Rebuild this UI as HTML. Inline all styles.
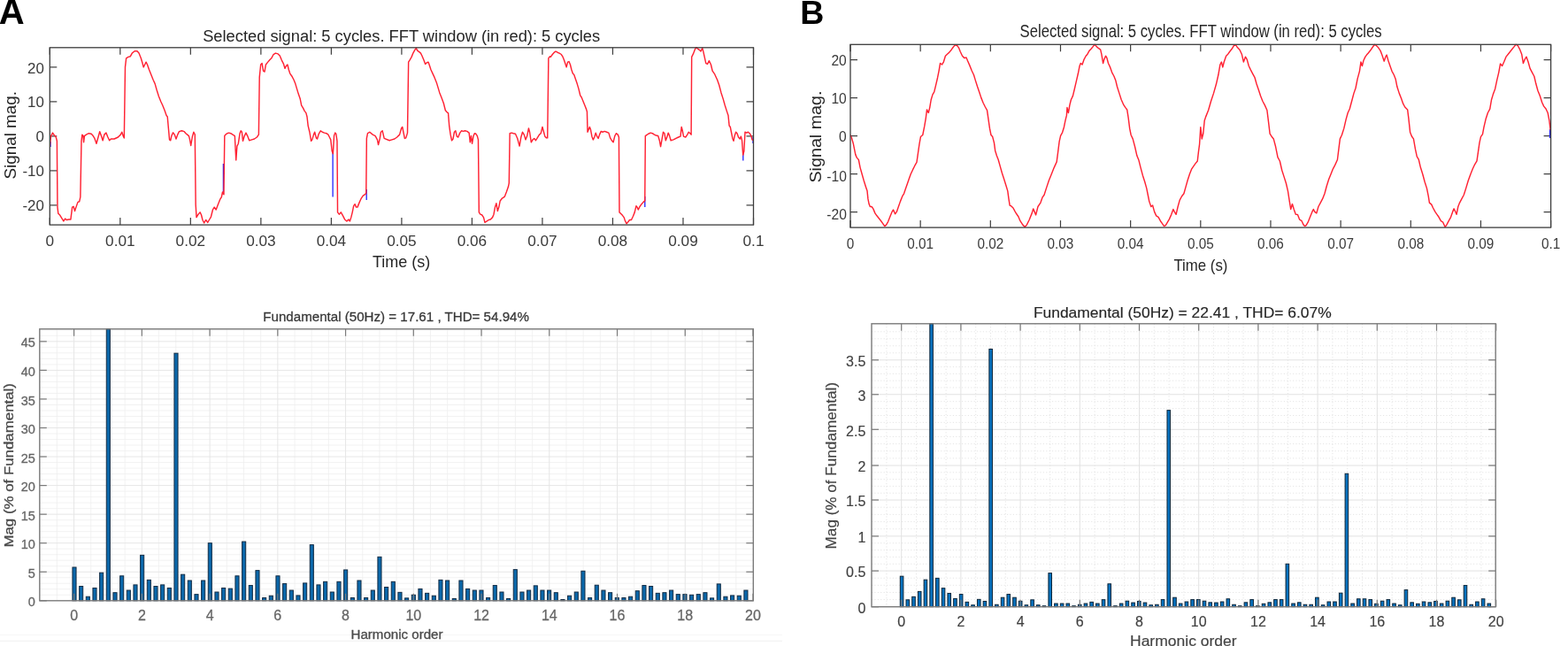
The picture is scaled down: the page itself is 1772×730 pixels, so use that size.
<!DOCTYPE html>
<html><head><meta charset="utf-8"><title>FFT analysis</title>
<style>html,body{margin:0;padding:0;background:#fff;width:1772px;height:730px;overflow:hidden}svg{display:block}</style>
</head><body>
<svg width="1772" height="730" viewBox="0 0 1772 730" font-family="'Liberation Sans', Arial, Helvetica, sans-serif">
<rect x="0" y="0" width="1772" height="730" fill="#ffffff"/>
<line x1="0" y1="717.6" x2="884" y2="717.6" stroke="#f7f7f7" stroke-width="1"/>
<line x1="0" y1="724.4" x2="884" y2="724.4" stroke="#f3f3f3" stroke-width="1.2"/>
<text x="-1.2" y="26.6" font-size="40" text-anchor="start" fill="#000" font-weight="bold">A</text>
<text x="904.3" y="26.6" font-size="37.5" text-anchor="start" fill="#000" font-weight="bold">B</text>
<line x1="56.3" y1="254.1" x2="56.3" y2="246.1" stroke="#3c3c3c" stroke-width="1.2"/>
<line x1="56.3" y1="53.8" x2="56.3" y2="61.8" stroke="#3c3c3c" stroke-width="1.2"/>
<text x="56.3" y="278.4" font-size="17.2" text-anchor="middle" fill="#3a3a3a">0</text>
<line x1="135.82" y1="254.1" x2="135.82" y2="246.1" stroke="#3c3c3c" stroke-width="1.2"/>
<line x1="135.82" y1="53.8" x2="135.82" y2="61.8" stroke="#3c3c3c" stroke-width="1.2"/>
<text x="135.82" y="278.4" font-size="17.2" text-anchor="middle" fill="#3a3a3a">0.01</text>
<line x1="215.34" y1="254.1" x2="215.34" y2="246.1" stroke="#3c3c3c" stroke-width="1.2"/>
<line x1="215.34" y1="53.8" x2="215.34" y2="61.8" stroke="#3c3c3c" stroke-width="1.2"/>
<text x="215.34" y="278.4" font-size="17.2" text-anchor="middle" fill="#3a3a3a">0.02</text>
<line x1="294.86" y1="254.1" x2="294.86" y2="246.1" stroke="#3c3c3c" stroke-width="1.2"/>
<line x1="294.86" y1="53.8" x2="294.86" y2="61.8" stroke="#3c3c3c" stroke-width="1.2"/>
<text x="294.86" y="278.4" font-size="17.2" text-anchor="middle" fill="#3a3a3a">0.03</text>
<line x1="374.38" y1="254.1" x2="374.38" y2="246.1" stroke="#3c3c3c" stroke-width="1.2"/>
<line x1="374.38" y1="53.8" x2="374.38" y2="61.8" stroke="#3c3c3c" stroke-width="1.2"/>
<text x="374.38" y="278.4" font-size="17.2" text-anchor="middle" fill="#3a3a3a">0.04</text>
<line x1="453.9" y1="254.1" x2="453.9" y2="246.1" stroke="#3c3c3c" stroke-width="1.2"/>
<line x1="453.9" y1="53.8" x2="453.9" y2="61.8" stroke="#3c3c3c" stroke-width="1.2"/>
<text x="453.9" y="278.4" font-size="17.2" text-anchor="middle" fill="#3a3a3a">0.05</text>
<line x1="533.42" y1="254.1" x2="533.42" y2="246.1" stroke="#3c3c3c" stroke-width="1.2"/>
<line x1="533.42" y1="53.8" x2="533.42" y2="61.8" stroke="#3c3c3c" stroke-width="1.2"/>
<text x="533.42" y="278.4" font-size="17.2" text-anchor="middle" fill="#3a3a3a">0.06</text>
<line x1="612.94" y1="254.1" x2="612.94" y2="246.1" stroke="#3c3c3c" stroke-width="1.2"/>
<line x1="612.94" y1="53.8" x2="612.94" y2="61.8" stroke="#3c3c3c" stroke-width="1.2"/>
<text x="612.94" y="278.4" font-size="17.2" text-anchor="middle" fill="#3a3a3a">0.07</text>
<line x1="692.46" y1="254.1" x2="692.46" y2="246.1" stroke="#3c3c3c" stroke-width="1.2"/>
<line x1="692.46" y1="53.8" x2="692.46" y2="61.8" stroke="#3c3c3c" stroke-width="1.2"/>
<text x="692.46" y="278.4" font-size="17.2" text-anchor="middle" fill="#3a3a3a">0.08</text>
<line x1="771.98" y1="254.1" x2="771.98" y2="246.1" stroke="#3c3c3c" stroke-width="1.2"/>
<line x1="771.98" y1="53.8" x2="771.98" y2="61.8" stroke="#3c3c3c" stroke-width="1.2"/>
<text x="771.98" y="278.4" font-size="17.2" text-anchor="middle" fill="#3a3a3a">0.09</text>
<line x1="851.5" y1="254.1" x2="851.5" y2="246.1" stroke="#3c3c3c" stroke-width="1.2"/>
<line x1="851.5" y1="53.8" x2="851.5" y2="61.8" stroke="#3c3c3c" stroke-width="1.2"/>
<text x="851.5" y="278.4" font-size="17.2" text-anchor="middle" fill="#3a3a3a">0.1</text>
<line x1="56.3" y1="231.9" x2="64.3" y2="231.9" stroke="#3c3c3c" stroke-width="1.2"/>
<line x1="851.5" y1="231.9" x2="843.5" y2="231.9" stroke="#3c3c3c" stroke-width="1.2"/>
<text x="49.8" y="238" font-size="16.9" text-anchor="end" fill="#3a3a3a">-20</text>
<line x1="56.3" y1="192.9" x2="64.3" y2="192.9" stroke="#3c3c3c" stroke-width="1.2"/>
<line x1="851.5" y1="192.9" x2="843.5" y2="192.9" stroke="#3c3c3c" stroke-width="1.2"/>
<text x="49.8" y="199" font-size="16.9" text-anchor="end" fill="#3a3a3a">-10</text>
<line x1="56.3" y1="153.9" x2="64.3" y2="153.9" stroke="#3c3c3c" stroke-width="1.2"/>
<line x1="851.5" y1="153.9" x2="843.5" y2="153.9" stroke="#3c3c3c" stroke-width="1.2"/>
<text x="49.8" y="160.3" font-size="16.9" text-anchor="end" fill="#3a3a3a">0</text>
<line x1="56.3" y1="114.9" x2="64.3" y2="114.9" stroke="#3c3c3c" stroke-width="1.2"/>
<line x1="851.5" y1="114.9" x2="843.5" y2="114.9" stroke="#3c3c3c" stroke-width="1.2"/>
<text x="49.8" y="120.9" font-size="16.9" text-anchor="end" fill="#3a3a3a">10</text>
<line x1="56.3" y1="75.9" x2="64.3" y2="75.9" stroke="#3c3c3c" stroke-width="1.2"/>
<line x1="851.5" y1="75.9" x2="843.5" y2="75.9" stroke="#3c3c3c" stroke-width="1.2"/>
<text x="49.8" y="83" font-size="16.9" text-anchor="end" fill="#3a3a3a">20</text>
<g clip-path="url(#clipAT)">
<line x1="252.4" y1="185" x2="252.4" y2="219.7" stroke="#2020ff" stroke-width="1.3"/>
<line x1="376.1" y1="172" x2="376.1" y2="222.6" stroke="#2020ff" stroke-width="1.3"/>
<line x1="414.2" y1="214" x2="414.2" y2="226" stroke="#2020ff" stroke-width="1.3"/>
<line x1="839.8" y1="172" x2="839.8" y2="181.5" stroke="#2020ff" stroke-width="1.3"/>
<line x1="728.8" y1="222" x2="728.8" y2="234" stroke="#2020ff" stroke-width="1.3"/>
<line x1="851" y1="155" x2="851" y2="162" stroke="#2020ff" stroke-width="1.3"/>
<line x1="57" y1="160" x2="57" y2="166" stroke="#2020ff" stroke-width="1.3"/>
<polyline points="56.33,165.65 57.48,154.14 59.49,150.12 61.51,152.99 62.95,154.14 63.81,157.02 64.38,159.32 64.96,234.12 65.82,241.31 67.84,243.33 70.14,247.07 71.86,249.94 73.59,247.07 75.32,248.5 77.62,247.93 79.92,247.93 81.65,234.12 83.08,233.26 84.52,238.43 85.96,234.12 87.97,228.37 89.7,227.79 90.85,222.61 92,159.32 92.87,152.13 94.02,153.57 94.59,160.76 95.45,153.57 97.47,152.13 100.35,150.69 103.22,151.27 105.24,153.57 106.96,156.44 108.98,162.2 110.99,155.01 112.72,148.68 114.44,153.57 116.17,158.75 117.89,152.13 119.91,150.12 121.92,155.01 123.65,158.75 125.37,157.02 129.11,157.02 133.43,155.01 136.31,152.13 137.74,149.25 139.18,153.57 140.33,155.87 141.48,75.89 142.64,65.82 144.94,64.38 147.24,63.81 149.25,60.07 152.13,57.77 155.01,57.77 157.02,60.07 159.32,65.82 161.05,71.58 162.2,75.89 163.64,73.01 165.07,70.14 166.51,73.01 168.53,78.77 170.83,84.52 173.13,90.28 175.14,94.59 177.16,101.78 179.46,108.98 181.76,114.73 183.77,119.04 186.08,124.8 188.09,130.55 189.24,131.99 190.39,144.94 191.54,157.88 192.69,158.75 193.84,153.57 195.57,149.83 197.3,152.13 199.02,157.02 200.75,152.13 202.47,148.68 205.35,147.81 208.23,148.68 209.95,150.69 211.68,152.13 213.41,153.57 214.56,157.88 215.71,164.5 217.43,154.14 218.87,149.25 220.31,152.13 221.17,231.24 222.04,245.63 224.05,242.17 226.06,239.87 227.5,242.75 228.94,248.5 230.67,251.96 232.68,248.5 234.7,251.38 236.42,248.5 238.43,245.05 240.45,237 242.17,234.12 244.19,237 246.33,231.24 248.63,225.49 250.36,222.61 251.51,216.86 252.95,219.74 253.81,153.57 254.96,152.13 256.69,150.69 258.7,150.12 260.71,150.69 263.01,152.13 265.32,153.57 266.75,180.9 267.91,165.07 269.34,162.2 271.07,150.69 272.22,147.81 273.37,149.25 274.52,159.32 276.25,153.57 277.97,150.12 279.7,153.57 281.71,158.75 284.59,157.88 287.47,157.02 290.35,155.01 292.36,152.13 293.22,87.4 294.66,73.01 296.1,71.58 297.54,80.21 298.98,81.07 300.41,73.01 302.72,70.14 304.73,67.84 306.74,65.82 309.04,61.51 311.35,60.07 314.22,60.93 316.24,62.95 318.25,67.84 320.55,72.44 321.99,77.33 323.43,74.45 324.87,73.01 326.31,78.77 327.74,83.08 329.76,85.96 332.06,90.28 333.79,94.59 335.51,100.35 337.24,106.1 339.25,111.85 340.69,119.04 342.42,121.92 344.14,125.37 345.87,127.68 347.02,131.99 348.17,142.06 349.9,149.25 351.62,159.32 352.77,157.88 354.5,152.13 355.65,149.25 357.38,155.87 358.53,157.02 360.25,151.27 362.27,147.81 364.28,149.25 366.58,150.12 368.88,150.69 370.9,152.13 372.34,155.01 373.77,157.88 375.21,170.83 376.36,173.71 377.51,153.57 378.67,150.12 379.82,151.27 380.97,159.32 381.54,239.87 383.27,242.17 385.28,239.87 387.3,243.33 389.6,247.93 391.9,249.94 393.91,247.93 395.35,249.94 396.79,245.63 398.23,239.87 399.67,232.68 401.1,230.67 402.54,234.12 403.98,234.12 406.28,228.37 408.3,224.05 410.31,221.17 412.61,219.74 413.76,218.3 414.34,156.44 415.49,150.69 417.79,149.25 421.24,152.13 424.12,153.57 426.42,157.88 427.57,163.64 429.3,156.44 430.45,149.25 432.17,147.81 434.19,156.44 440.07,158.75 442.95,157.88 445.82,157.02 448.7,155.01 451.58,152.13 453.59,144.94 454.74,143.5 455.89,149.25 457.33,156.44 458.77,155.87 460.49,150.12 461.65,70.14 463.08,67.84 465.1,64.38 466.82,60.07 468.84,56.33 470.28,54.32 471.71,57.19 473.73,58.63 475.45,60.07 476.89,62.95 478.91,67.84 480.63,72.44 482.36,70.71 484.09,70.14 485.24,73.59 486.96,78.77 488.98,83.08 490.99,87.4 493.29,93.15 495.02,98.91 496.74,104.66 499.04,110.41 501.35,116.74 503.36,124.8 505.37,127.1 506.52,127.68 507.68,142.06 509.11,152.13 510.55,158.75 511.99,157.02 513.43,149.25 514.87,147.81 516.31,154.14 517.74,155.01 519.76,150.12 521.48,147.81 523.5,148.39 525.51,147.81 527.81,148.39 530.12,150.12 531.27,160.76 532.42,153.57 533.57,162.2 535.01,153.57 536.44,150.69 537.88,151.27 539.32,153.57 540.47,157.88 541.33,239.87 542.77,242.17 544.5,242.75 546.51,245.63 547.95,251.38 550.25,249.94 552.27,248.5 554.28,247.93 556.58,245.63 558.02,242.17 559.46,234.12 560.9,229.8 562.34,238.43 563.77,234.12 565.21,226.93 567.51,224.05 570.39,222.04 572.41,216.86 574.42,211.1 575.28,206.79 576.14,150.69 578.16,150.12 580.17,150.69 582.47,151.27 584.78,156.44 587.08,165.07 588.8,155.01 590.53,149.25 592.26,152.13 593.98,157.88 595.71,153.57 597.43,144.94 598.58,149.25 600.31,160.76 602.04,157.88 603.76,156.44 605.49,158.75 607.22,155.87 609.52,152.13 611.24,150.69 612.97,143.5 614.12,147.81 615.85,154.14 617.57,155.87 618.72,155.87 619.87,65.82 621.31,63.81 622.3,64.38 624.32,61.51 626.33,59.21 628.06,58.06 630.07,59.21 632.08,60.07 634.38,61.51 635.82,63.81 637.26,67.26 638.7,71.58 640.14,75.89 641.58,70.14 643.01,69.56 644.45,73.01 645.89,78.77 647.33,83.08 648.77,84.52 650.21,88.84 652.22,94.59 653.95,100.35 655.67,107.54 657.4,110.41 659.13,114.73 660.85,119.04 662.58,123.36 663.44,126.24 664.02,149.25 665.17,146.38 666.32,143.5 667.47,146.38 668.91,154.14 670.35,157.88 671.78,155.01 673.22,150.12 674.66,154.14 676.1,156.44 677.54,152.13 679.26,148.39 680.99,149.25 683.29,148.39 685.59,149.25 687.89,150.12 689.62,155.87 691.35,158.75 693.07,160.76 694.8,153.57 696.52,150.69 698.25,152.13 699.4,155.01 699.98,239.87 701.42,241.31 703.43,243.33 705.16,245.63 706.31,249.08 708.03,252.82 709.76,250.81 711.48,248.5 713.5,248.5 715.51,244.19 717.24,239.87 718.96,232.68 720.12,234.12 721.27,237 722.99,233.54 725.01,230.67 727.02,228.37 728.75,226.93 729.32,153.57 731.05,152.42 732.77,151.27 735.07,150.12 737.38,150.69 739.39,152.13 741.4,152.99 743.71,153.57 745.43,159.32 746.58,165.65 747.73,159.32 749.46,149.25 750.9,150.69 752.34,158.75 753.77,155.01 755.21,150.12 756.65,153.57 758.09,158.75 760.97,157.88 763.84,156.44 766.72,155.01 769.02,154.14 770.17,143.5 771.32,147.81 772.47,154.14 774.78,155.01 776.79,152.13 778.23,149.25 779.95,150.69 781.1,152.13 781.68,64.38 783.41,60.93 785.42,55.75 786.86,53.45 788.58,55.18 790.31,56.33 792.04,58.06 793.76,54.32 794.91,58.63 796.06,63.81 797.79,71.58 799.52,72.44 801.42,68.7 803.43,73.01 805.16,80.21 807.74,83.95 810.62,90.28 812.64,96.03 814.94,104.66 817.24,111.85 819.25,119.04 821.27,125.37 822.99,130.55 824.14,142.06 825.29,143.5 826.44,149.25 827.88,156.44 829.03,159.32 830.18,153.57 831.62,149.25 833.06,150.69 834.5,155.01 836.23,157.02 837.38,154.14 838.53,158.75 839.68,175.14 840.83,170.83 841.98,149.25 843.71,150.12 845.43,149.25 847.16,150.69 848.88,153.57 850.03,157.88 851.47,158.75" fill="none" stroke="#ff2233" stroke-width="1.45" stroke-linejoin="round" stroke-linecap="round"/>
</g>
<clipPath id="clipAT"><rect x="56.3" y="52.8" width="795.2" height="201.3"/></clipPath>
<rect x="56.3" y="53.8" width="795.2" height="200.3" fill="none" stroke="#3c3c3c" stroke-width="1.3"/>
<text x="453.65" y="46.5" font-size="18" text-anchor="middle" fill="#262626" textLength="449" lengthAdjust="spacingAndGlyphs">Selected signal: 5 cycles. FFT window (in red): 5 cycles</text>
<text x="453.6" y="301.8" font-size="17.7" text-anchor="middle" fill="#262626" textLength="65.4" lengthAdjust="spacingAndGlyphs">Time (s)</text>
<text x="17.8" y="152.8" font-size="17.7" text-anchor="middle" fill="#262626" textLength="99.6" lengthAdjust="spacingAndGlyphs" transform="rotate(-90 17.8 152.8)">Signal mag.</text>
<line x1="961" y1="257.1" x2="961" y2="249.1" stroke="#3c3c3c" stroke-width="1.2"/>
<line x1="961" y1="50.3" x2="961" y2="58.3" stroke="#3c3c3c" stroke-width="1.2"/>
<text x="961" y="281" font-size="17.2" text-anchor="middle" fill="#3a3a3a" transform="translate(961 0) scale(0.89 1) translate(-961 0)">0</text>
<line x1="1040.16" y1="257.1" x2="1040.16" y2="249.1" stroke="#3c3c3c" stroke-width="1.2"/>
<line x1="1040.16" y1="50.3" x2="1040.16" y2="58.3" stroke="#3c3c3c" stroke-width="1.2"/>
<text x="1040.16" y="281" font-size="17.2" text-anchor="middle" fill="#3a3a3a" transform="translate(1040.16 0) scale(0.89 1) translate(-1040.16 0)">0.01</text>
<line x1="1119.32" y1="257.1" x2="1119.32" y2="249.1" stroke="#3c3c3c" stroke-width="1.2"/>
<line x1="1119.32" y1="50.3" x2="1119.32" y2="58.3" stroke="#3c3c3c" stroke-width="1.2"/>
<text x="1119.32" y="281" font-size="17.2" text-anchor="middle" fill="#3a3a3a" transform="translate(1119.32 0) scale(0.89 1) translate(-1119.32 0)">0.02</text>
<line x1="1198.48" y1="257.1" x2="1198.48" y2="249.1" stroke="#3c3c3c" stroke-width="1.2"/>
<line x1="1198.48" y1="50.3" x2="1198.48" y2="58.3" stroke="#3c3c3c" stroke-width="1.2"/>
<text x="1198.48" y="281" font-size="17.2" text-anchor="middle" fill="#3a3a3a" transform="translate(1198.48 0) scale(0.89 1) translate(-1198.48 0)">0.03</text>
<line x1="1277.64" y1="257.1" x2="1277.64" y2="249.1" stroke="#3c3c3c" stroke-width="1.2"/>
<line x1="1277.64" y1="50.3" x2="1277.64" y2="58.3" stroke="#3c3c3c" stroke-width="1.2"/>
<text x="1277.64" y="281" font-size="17.2" text-anchor="middle" fill="#3a3a3a" transform="translate(1277.64 0) scale(0.89 1) translate(-1277.64 0)">0.04</text>
<line x1="1356.8" y1="257.1" x2="1356.8" y2="249.1" stroke="#3c3c3c" stroke-width="1.2"/>
<line x1="1356.8" y1="50.3" x2="1356.8" y2="58.3" stroke="#3c3c3c" stroke-width="1.2"/>
<text x="1356.8" y="281" font-size="17.2" text-anchor="middle" fill="#3a3a3a" transform="translate(1356.8 0) scale(0.89 1) translate(-1356.8 0)">0.05</text>
<line x1="1435.96" y1="257.1" x2="1435.96" y2="249.1" stroke="#3c3c3c" stroke-width="1.2"/>
<line x1="1435.96" y1="50.3" x2="1435.96" y2="58.3" stroke="#3c3c3c" stroke-width="1.2"/>
<text x="1435.96" y="281" font-size="17.2" text-anchor="middle" fill="#3a3a3a" transform="translate(1435.96 0) scale(0.89 1) translate(-1435.96 0)">0.06</text>
<line x1="1515.12" y1="257.1" x2="1515.12" y2="249.1" stroke="#3c3c3c" stroke-width="1.2"/>
<line x1="1515.12" y1="50.3" x2="1515.12" y2="58.3" stroke="#3c3c3c" stroke-width="1.2"/>
<text x="1515.12" y="281" font-size="17.2" text-anchor="middle" fill="#3a3a3a" transform="translate(1515.12 0) scale(0.89 1) translate(-1515.12 0)">0.07</text>
<line x1="1594.28" y1="257.1" x2="1594.28" y2="249.1" stroke="#3c3c3c" stroke-width="1.2"/>
<line x1="1594.28" y1="50.3" x2="1594.28" y2="58.3" stroke="#3c3c3c" stroke-width="1.2"/>
<text x="1594.28" y="281" font-size="17.2" text-anchor="middle" fill="#3a3a3a" transform="translate(1594.28 0) scale(0.89 1) translate(-1594.28 0)">0.08</text>
<line x1="1673.44" y1="257.1" x2="1673.44" y2="249.1" stroke="#3c3c3c" stroke-width="1.2"/>
<line x1="1673.44" y1="50.3" x2="1673.44" y2="58.3" stroke="#3c3c3c" stroke-width="1.2"/>
<text x="1673.44" y="281" font-size="17.2" text-anchor="middle" fill="#3a3a3a" transform="translate(1673.44 0) scale(0.89 1) translate(-1673.44 0)">0.09</text>
<line x1="1752.6" y1="257.1" x2="1752.6" y2="249.1" stroke="#3c3c3c" stroke-width="1.2"/>
<line x1="1752.6" y1="50.3" x2="1752.6" y2="58.3" stroke="#3c3c3c" stroke-width="1.2"/>
<text x="1752.6" y="281" font-size="17.2" text-anchor="middle" fill="#3a3a3a" transform="translate(1752.6 0) scale(0.89 1) translate(-1752.6 0)">0.1</text>
<line x1="961" y1="239.6" x2="969" y2="239.6" stroke="#3c3c3c" stroke-width="1.2"/>
<line x1="1752.6" y1="239.6" x2="1744.6" y2="239.6" stroke="#3c3c3c" stroke-width="1.2"/>
<text x="956.8" y="247.7" font-size="17.3" text-anchor="end" fill="#3a3a3a" transform="translate(956.8 0) scale(0.9 1) translate(-956.8 0)">-20</text>
<line x1="961" y1="196.6" x2="969" y2="196.6" stroke="#3c3c3c" stroke-width="1.2"/>
<line x1="1752.6" y1="196.6" x2="1744.6" y2="196.6" stroke="#3c3c3c" stroke-width="1.2"/>
<text x="956.8" y="204.7" font-size="17.3" text-anchor="end" fill="#3a3a3a" transform="translate(956.8 0) scale(0.9 1) translate(-956.8 0)">-10</text>
<line x1="961" y1="153.6" x2="969" y2="153.6" stroke="#3c3c3c" stroke-width="1.2"/>
<line x1="1752.6" y1="153.6" x2="1744.6" y2="153.6" stroke="#3c3c3c" stroke-width="1.2"/>
<text x="956.8" y="160.5" font-size="17.3" text-anchor="end" fill="#3a3a3a" transform="translate(956.8 0) scale(0.9 1) translate(-956.8 0)">0</text>
<line x1="961" y1="110.6" x2="969" y2="110.6" stroke="#3c3c3c" stroke-width="1.2"/>
<line x1="1752.6" y1="110.6" x2="1744.6" y2="110.6" stroke="#3c3c3c" stroke-width="1.2"/>
<text x="956.8" y="117.4" font-size="17.3" text-anchor="end" fill="#3a3a3a" transform="translate(956.8 0) scale(0.9 1) translate(-956.8 0)">10</text>
<line x1="961" y1="67.6" x2="969" y2="67.6" stroke="#3c3c3c" stroke-width="1.2"/>
<line x1="1752.6" y1="67.6" x2="1744.6" y2="67.6" stroke="#3c3c3c" stroke-width="1.2"/>
<text x="956.8" y="74.5" font-size="17.3" text-anchor="end" fill="#3a3a3a" transform="translate(956.8 0) scale(0.9 1) translate(-956.8 0)">20</text>
<g clip-path="url(#clipBT)">
<line x1="1751.7" y1="146" x2="1751.7" y2="156" stroke="#2020ff" stroke-width="1.6"/>
<polyline points="960.89,152.51 962.36,155.46 964.43,162.82 966.78,174.6 968.25,178.14 970.32,180.49 972.08,189.33 974.15,196.69 976.21,204.06 978.56,211.42 980.04,215.84 980.92,224.68 982.1,230.57 983.28,233.51 985.04,233.51 986.81,235.87 988.87,240.88 990.94,243.82 993.29,246.77 995.65,249.71 997.71,252.66 999.77,255.6 1001.54,254.13 1003.6,250.6 1005.66,245.29 1008.02,239.4 1009.49,237.05 1011.55,241.76 1013.32,239.4 1015.38,233.51 1017.44,227.62 1019.8,221.73 1021.57,218.78 1023.34,213.48 1025.1,208.48 1027.16,202.58 1029.23,196.69 1031.58,191.69 1033.94,186.97 1036,183.44 1037.47,173.13 1038.95,162.82 1040.42,154.57 1042.78,152.51 1044.84,142.2 1046.31,133.37 1047.49,123.94 1049.26,127.47 1050.73,121.58 1052.2,112.75 1053.97,106.86 1055.74,103.91 1057.5,96.55 1059.57,87.71 1061.04,80.35 1062.51,71.51 1064.57,72.98 1066.34,70.04 1068.4,63.26 1070.46,61.2 1072.82,59.14 1075.18,56.19 1077.24,53.25 1079.3,50.89 1081.66,51.48 1083.42,53.84 1085.19,58.25 1087.55,63.26 1089.9,65.62 1091.97,65.03 1093.44,68.56 1095.8,73.87 1098.15,79.76 1100.51,84.76 1102.28,90.66 1104.63,98.02 1106.69,103.91 1108.76,110.39 1111.11,116.28 1113.47,120.99 1115.53,124.53 1117,134.84 1118.48,145.15 1119.95,152.51 1121.72,154.57 1123.48,161.35 1124.66,170.18 1126.43,176.08 1128.2,180.49 1130.26,187.86 1132.32,195.22 1134.68,202.58 1137.03,209.95 1138.8,215.84 1139.98,224.68 1141.16,232.04 1142.92,232.92 1144.99,234.99 1147.05,238.81 1148.81,241.76 1150.88,244.71 1152.95,249.71 1155.89,254.13 1158.25,256.49 1160.31,254.13 1163.25,248.24 1166.2,240.88 1167.67,235.87 1169.15,239.4 1170.62,242.94 1172.97,233.51 1175.92,229.09 1177.98,223.2 1180.04,220.26 1182.4,212.89 1185.35,204.06 1188.29,196.69 1191.24,189.33 1194.18,182.85 1195.66,171.66 1197.13,159.87 1198.6,153.39 1200.66,149.57 1202.43,143.67 1203.9,136.31 1205.38,130.42 1205.96,121.58 1207.44,127.47 1208.91,118.64 1210.38,112.75 1212.44,108.33 1214.21,100.96 1216.27,92.13 1218.34,83.29 1220.1,74.46 1221.28,71.51 1223.05,72.98 1225.11,67.09 1227.17,63.26 1228.94,61.2 1231,57.37 1233.06,55.31 1235.42,52.36 1237.19,50.3 1238.95,52.36 1241.31,54.43 1243.67,56.19 1244.85,61.2 1246.61,71.51 1247.79,67.09 1249.56,63.26 1250.74,65.03 1252.5,71.51 1254.57,75.93 1256.63,81.82 1258.98,86.24 1260.75,90.66 1262.52,98.02 1264.87,105.38 1267.23,112.75 1269.59,118.05 1271.94,121.58 1273.71,123.94 1275.18,133.37 1276.66,145.15 1278.13,152.51 1280.19,156.93 1282.55,165.77 1284.9,176.08 1286.97,181.08 1289.03,189.33 1291.38,198.17 1293.74,205.53 1295.8,212.89 1297.28,220.26 1298.75,227.62 1300.81,233.51 1302.58,232.04 1304.64,239.4 1306.7,243.82 1309.06,245.29 1311.41,249.71 1313.48,252.66 1315.54,255.6 1317.3,254.72 1319.37,251.19 1321.43,247.65 1323.78,242.35 1325.85,236.46 1327.32,239.4 1329.09,242.35 1331.15,233.51 1333.21,226.15 1335.57,221.73 1337.92,218.78 1339.99,211.42 1342.05,204.06 1344.4,196.69 1346.76,190.8 1350.89,184.91 1353.25,181.97 1354.43,171.66 1355.6,162.82 1356.78,143.67 1358.25,156.93 1359.73,151.04 1361.2,136.31 1362.67,131.89 1365.62,124.53 1368.56,114.22 1371.51,105.38 1374.46,95.07 1376.81,84.76 1378.87,72.98 1380.35,70.04 1381.82,75.93 1383.29,70.04 1385.65,63.26 1387.71,61.2 1389.77,58.25 1392.13,55.31 1394.48,51.48 1396.55,50.89 1398.61,53.84 1400.96,56.19 1403.32,61.2 1405.38,70.04 1407.44,64.15 1409.21,67.09 1411.27,74.46 1413.34,78.87 1415.69,83.29 1418.05,87.71 1420.11,95.07 1422.17,100.96 1424.53,108.33 1426.89,114.22 1429.24,118.64 1431.89,124.53 1433.37,136.31 1435.13,151.04 1436.9,153.98 1439.26,156.93 1441.61,165.77 1443.97,177.55 1446.33,181.97 1448.68,192.28 1451.04,199.64 1453.39,207 1455.46,215.84 1457.52,229.09 1458.7,236.46 1460.46,230.57 1462.23,236.46 1464.29,242.35 1466.35,242.35 1468.71,248.24 1471.07,249.71 1473.13,254.13 1474.6,255.6 1476.08,254.72 1478.14,251.19 1480.49,245.29 1482.85,239.4 1484.32,236.46 1485.8,239.4 1487.86,240.88 1489.92,233.51 1492.28,229.09 1494.63,224.68 1496.99,218.78 1499.34,209.95 1501.7,202.58 1504.06,196.69 1506.41,190.8 1508.77,186.38 1511.42,180.49 1512.89,168.71 1514.37,156.93 1516.43,152.51 1518.78,145.15 1521.14,134.84 1523.2,127.47 1525.27,123.06 1527.62,114.22 1529.98,105.38 1532.04,99.49 1534.1,89.18 1536.46,80.35 1537.93,70.04 1539.4,74.46 1540.88,68.56 1542.94,64.15 1544.42,62.08 1546.48,59.73 1548.84,56.78 1551.19,53.25 1553.55,50.3 1555.32,51.48 1557.67,53.84 1560.03,57.37 1562.09,62.67 1564.15,69.15 1565.92,64.15 1567.1,62.08 1568.87,68.56 1570.93,74.46 1572.99,80.35 1575.35,84.76 1577.11,89.18 1578.88,98.02 1581.24,105.38 1583.59,111.27 1585.66,117.16 1587.72,120.99 1590.66,123.94 1591.84,133.37 1593.61,149.57 1595.38,153.98 1597.44,156.93 1599.5,168.71 1601.27,176.96 1603.33,180.49 1605.39,189.33 1607.75,196.69 1610.1,205.53 1612.46,212.89 1614.23,221.73 1615.41,229.09 1617.76,231.16 1619.53,234.99 1621.89,239.4 1623.95,242.35 1626.01,245.29 1628.37,249.71 1630.72,251.19 1633.08,256.49 1634.85,254.13 1637.2,249.71 1639.56,245.29 1641.62,239.4 1643.09,235.87 1644.86,239.4 1646.04,242.35 1647.81,233.51 1649.57,229.09 1651.93,224.68 1654.29,220.26 1656.64,212.89 1659.29,204.06 1661.94,196.69 1664.3,190.8 1666.66,185.8 1669.01,181.97 1670.49,171.66 1671.96,161.35 1673.43,154.57 1675.49,151.63 1676.97,143.67 1679.03,134.84 1681.38,127.47 1683.74,123.06 1685.51,112.75 1687.28,106.86 1689.63,100.38 1691.69,90.66 1693.76,81.82 1695.52,72.1 1697.58,74.46 1699.65,70.04 1702,64.15 1704.36,61.2 1706.72,58.25 1709.07,55.31 1711.43,52.36 1713.2,50.3 1715.26,51.48 1717.32,55.31 1719.68,61.2 1721.44,71.51 1723.21,67.09 1724.98,64.15 1727.04,70.04 1729.1,77.4 1731.46,81.82 1733.81,86.24 1735.88,95.07 1737.94,102.44 1740.29,108.33 1742.65,115.69 1744.71,120.11 1747.07,123.06 1749.13,127.47 1750.9,136.31 1752.08,146.62" fill="none" stroke="#ff2233" stroke-width="1.45" stroke-linejoin="round" stroke-linecap="round"/>
</g>
<clipPath id="clipBT"><rect x="961" y="49.3" width="791.5999999999999" height="207.8"/></clipPath>
<rect x="961" y="50.3" width="791.6" height="206.8" fill="none" stroke="#3c3c3c" stroke-width="1.3"/>
<text x="1357.1" y="42" font-size="19.5" text-anchor="middle" fill="#262626" textLength="409" lengthAdjust="spacingAndGlyphs">Selected signal: 5 cycles. FFT window (in red): 5 cycles</text>
<text x="1356.9" y="305.5" font-size="19" text-anchor="middle" fill="#262626" textLength="61" lengthAdjust="spacingAndGlyphs">Time (s)</text>
<text x="928.2" y="154.5" font-size="17.5" text-anchor="middle" fill="#262626" textLength="104" lengthAdjust="spacingAndGlyphs" transform="rotate(-90 928.2 154.5)">Signal mag.</text>
<line x1="44.8" y1="672.29" x2="851.3" y2="672.29" stroke="#efefef" stroke-width="0.8"/>
<line x1="44.8" y1="665.78" x2="851.3" y2="665.78" stroke="#efefef" stroke-width="0.8"/>
<line x1="44.8" y1="659.27" x2="851.3" y2="659.27" stroke="#efefef" stroke-width="0.8"/>
<line x1="44.8" y1="652.76" x2="851.3" y2="652.76" stroke="#efefef" stroke-width="0.8"/>
<line x1="44.8" y1="639.74" x2="851.3" y2="639.74" stroke="#efefef" stroke-width="0.8"/>
<line x1="44.8" y1="633.23" x2="851.3" y2="633.23" stroke="#efefef" stroke-width="0.8"/>
<line x1="44.8" y1="626.72" x2="851.3" y2="626.72" stroke="#efefef" stroke-width="0.8"/>
<line x1="44.8" y1="620.21" x2="851.3" y2="620.21" stroke="#efefef" stroke-width="0.8"/>
<line x1="44.8" y1="607.19" x2="851.3" y2="607.19" stroke="#efefef" stroke-width="0.8"/>
<line x1="44.8" y1="600.68" x2="851.3" y2="600.68" stroke="#efefef" stroke-width="0.8"/>
<line x1="44.8" y1="594.17" x2="851.3" y2="594.17" stroke="#efefef" stroke-width="0.8"/>
<line x1="44.8" y1="587.66" x2="851.3" y2="587.66" stroke="#efefef" stroke-width="0.8"/>
<line x1="44.8" y1="574.64" x2="851.3" y2="574.64" stroke="#efefef" stroke-width="0.8"/>
<line x1="44.8" y1="568.13" x2="851.3" y2="568.13" stroke="#efefef" stroke-width="0.8"/>
<line x1="44.8" y1="561.62" x2="851.3" y2="561.62" stroke="#efefef" stroke-width="0.8"/>
<line x1="44.8" y1="555.11" x2="851.3" y2="555.11" stroke="#efefef" stroke-width="0.8"/>
<line x1="44.8" y1="542.09" x2="851.3" y2="542.09" stroke="#efefef" stroke-width="0.8"/>
<line x1="44.8" y1="535.58" x2="851.3" y2="535.58" stroke="#efefef" stroke-width="0.8"/>
<line x1="44.8" y1="529.07" x2="851.3" y2="529.07" stroke="#efefef" stroke-width="0.8"/>
<line x1="44.8" y1="522.56" x2="851.3" y2="522.56" stroke="#efefef" stroke-width="0.8"/>
<line x1="44.8" y1="509.54" x2="851.3" y2="509.54" stroke="#efefef" stroke-width="0.8"/>
<line x1="44.8" y1="503.03" x2="851.3" y2="503.03" stroke="#efefef" stroke-width="0.8"/>
<line x1="44.8" y1="496.52" x2="851.3" y2="496.52" stroke="#efefef" stroke-width="0.8"/>
<line x1="44.8" y1="490.01" x2="851.3" y2="490.01" stroke="#efefef" stroke-width="0.8"/>
<line x1="44.8" y1="476.99" x2="851.3" y2="476.99" stroke="#efefef" stroke-width="0.8"/>
<line x1="44.8" y1="470.48" x2="851.3" y2="470.48" stroke="#efefef" stroke-width="0.8"/>
<line x1="44.8" y1="463.97" x2="851.3" y2="463.97" stroke="#efefef" stroke-width="0.8"/>
<line x1="44.8" y1="457.46" x2="851.3" y2="457.46" stroke="#efefef" stroke-width="0.8"/>
<line x1="44.8" y1="444.44" x2="851.3" y2="444.44" stroke="#efefef" stroke-width="0.8"/>
<line x1="44.8" y1="437.93" x2="851.3" y2="437.93" stroke="#efefef" stroke-width="0.8"/>
<line x1="44.8" y1="431.42" x2="851.3" y2="431.42" stroke="#efefef" stroke-width="0.8"/>
<line x1="44.8" y1="424.91" x2="851.3" y2="424.91" stroke="#efefef" stroke-width="0.8"/>
<line x1="44.8" y1="411.89" x2="851.3" y2="411.89" stroke="#efefef" stroke-width="0.8"/>
<line x1="44.8" y1="405.38" x2="851.3" y2="405.38" stroke="#efefef" stroke-width="0.8"/>
<line x1="44.8" y1="398.87" x2="851.3" y2="398.87" stroke="#efefef" stroke-width="0.8"/>
<line x1="44.8" y1="392.36" x2="851.3" y2="392.36" stroke="#efefef" stroke-width="0.8"/>
<line x1="44.8" y1="379.34" x2="851.3" y2="379.34" stroke="#efefef" stroke-width="0.8"/>
<line x1="44.8" y1="372.83" x2="851.3" y2="372.83" stroke="#efefef" stroke-width="0.8"/>
<line x1="64.41" y1="371.8" x2="64.41" y2="678.8" stroke="#efefef" stroke-width="0.8"/>
<line x1="102.78" y1="371.8" x2="102.78" y2="678.8" stroke="#efefef" stroke-width="0.8"/>
<line x1="121.97" y1="371.8" x2="121.97" y2="678.8" stroke="#efefef" stroke-width="0.8"/>
<line x1="141.15" y1="371.8" x2="141.15" y2="678.8" stroke="#efefef" stroke-width="0.8"/>
<line x1="179.52" y1="371.8" x2="179.52" y2="678.8" stroke="#efefef" stroke-width="0.8"/>
<line x1="198.71" y1="371.8" x2="198.71" y2="678.8" stroke="#efefef" stroke-width="0.8"/>
<line x1="217.89" y1="371.8" x2="217.89" y2="678.8" stroke="#efefef" stroke-width="0.8"/>
<line x1="256.26" y1="371.8" x2="256.26" y2="678.8" stroke="#efefef" stroke-width="0.8"/>
<line x1="275.45" y1="371.8" x2="275.45" y2="678.8" stroke="#efefef" stroke-width="0.8"/>
<line x1="294.63" y1="371.8" x2="294.63" y2="678.8" stroke="#efefef" stroke-width="0.8"/>
<line x1="333" y1="371.8" x2="333" y2="678.8" stroke="#efefef" stroke-width="0.8"/>
<line x1="352.19" y1="371.8" x2="352.19" y2="678.8" stroke="#efefef" stroke-width="0.8"/>
<line x1="371.38" y1="371.8" x2="371.38" y2="678.8" stroke="#efefef" stroke-width="0.8"/>
<line x1="409.75" y1="371.8" x2="409.75" y2="678.8" stroke="#efefef" stroke-width="0.8"/>
<line x1="428.93" y1="371.8" x2="428.93" y2="678.8" stroke="#efefef" stroke-width="0.8"/>
<line x1="448.12" y1="371.8" x2="448.12" y2="678.8" stroke="#efefef" stroke-width="0.8"/>
<line x1="486.49" y1="371.8" x2="486.49" y2="678.8" stroke="#efefef" stroke-width="0.8"/>
<line x1="505.67" y1="371.8" x2="505.67" y2="678.8" stroke="#efefef" stroke-width="0.8"/>
<line x1="524.86" y1="371.8" x2="524.86" y2="678.8" stroke="#efefef" stroke-width="0.8"/>
<line x1="563.22" y1="371.8" x2="563.22" y2="678.8" stroke="#efefef" stroke-width="0.8"/>
<line x1="582.41" y1="371.8" x2="582.41" y2="678.8" stroke="#efefef" stroke-width="0.8"/>
<line x1="601.6" y1="371.8" x2="601.6" y2="678.8" stroke="#efefef" stroke-width="0.8"/>
<line x1="639.97" y1="371.8" x2="639.97" y2="678.8" stroke="#efefef" stroke-width="0.8"/>
<line x1="659.15" y1="371.8" x2="659.15" y2="678.8" stroke="#efefef" stroke-width="0.8"/>
<line x1="678.34" y1="371.8" x2="678.34" y2="678.8" stroke="#efefef" stroke-width="0.8"/>
<line x1="716.7" y1="371.8" x2="716.7" y2="678.8" stroke="#efefef" stroke-width="0.8"/>
<line x1="735.89" y1="371.8" x2="735.89" y2="678.8" stroke="#efefef" stroke-width="0.8"/>
<line x1="755.07" y1="371.8" x2="755.07" y2="678.8" stroke="#efefef" stroke-width="0.8"/>
<line x1="793.44" y1="371.8" x2="793.44" y2="678.8" stroke="#efefef" stroke-width="0.8"/>
<line x1="812.63" y1="371.8" x2="812.63" y2="678.8" stroke="#efefef" stroke-width="0.8"/>
<line x1="831.81" y1="371.8" x2="831.81" y2="678.8" stroke="#efefef" stroke-width="0.8"/>
<line x1="44.8" y1="646.25" x2="851.3" y2="646.25" stroke="#e6e6e6" stroke-width="1"/>
<line x1="44.8" y1="613.7" x2="851.3" y2="613.7" stroke="#e6e6e6" stroke-width="1"/>
<line x1="44.8" y1="581.15" x2="851.3" y2="581.15" stroke="#e6e6e6" stroke-width="1"/>
<line x1="44.8" y1="548.6" x2="851.3" y2="548.6" stroke="#e6e6e6" stroke-width="1"/>
<line x1="44.8" y1="516.05" x2="851.3" y2="516.05" stroke="#e6e6e6" stroke-width="1"/>
<line x1="44.8" y1="483.5" x2="851.3" y2="483.5" stroke="#e6e6e6" stroke-width="1"/>
<line x1="44.8" y1="450.95" x2="851.3" y2="450.95" stroke="#e6e6e6" stroke-width="1"/>
<line x1="44.8" y1="418.4" x2="851.3" y2="418.4" stroke="#e6e6e6" stroke-width="1"/>
<line x1="44.8" y1="385.85" x2="851.3" y2="385.85" stroke="#e6e6e6" stroke-width="1"/>
<line x1="83.6" y1="371.8" x2="83.6" y2="678.8" stroke="#e6e6e6" stroke-width="1"/>
<line x1="160.34" y1="371.8" x2="160.34" y2="678.8" stroke="#e6e6e6" stroke-width="1"/>
<line x1="237.08" y1="371.8" x2="237.08" y2="678.8" stroke="#e6e6e6" stroke-width="1"/>
<line x1="313.82" y1="371.8" x2="313.82" y2="678.8" stroke="#e6e6e6" stroke-width="1"/>
<line x1="390.56" y1="371.8" x2="390.56" y2="678.8" stroke="#e6e6e6" stroke-width="1"/>
<line x1="467.3" y1="371.8" x2="467.3" y2="678.8" stroke="#e6e6e6" stroke-width="1"/>
<line x1="544.04" y1="371.8" x2="544.04" y2="678.8" stroke="#e6e6e6" stroke-width="1"/>
<line x1="620.78" y1="371.8" x2="620.78" y2="678.8" stroke="#e6e6e6" stroke-width="1"/>
<line x1="697.52" y1="371.8" x2="697.52" y2="678.8" stroke="#e6e6e6" stroke-width="1"/>
<line x1="774.26" y1="371.8" x2="774.26" y2="678.8" stroke="#e6e6e6" stroke-width="1"/>
<g fill="#0b68ab" stroke="#142c44" stroke-width="1">
<rect x="81.95" y="641.04" width="4.1" height="37.76"/>
<rect x="89.62" y="662.52" width="4.1" height="16.27"/>
<rect x="97.28" y="674.24" width="4.1" height="4.56"/>
<rect x="104.95" y="664.48" width="4.1" height="14.32"/>
<rect x="112.61" y="647.23" width="4.1" height="31.57"/>
<rect x="120.28" y="371.8" width="4.1" height="307"/>
<rect x="127.95" y="669.69" width="4.1" height="9.11"/>
<rect x="135.61" y="650.81" width="4.1" height="27.99"/>
<rect x="143.28" y="667.08" width="4.1" height="11.72"/>
<rect x="150.94" y="660.9" width="4.1" height="17.9"/>
<rect x="158.61" y="627.37" width="4.1" height="51.43"/>
<rect x="166.28" y="655.36" width="4.1" height="23.44"/>
<rect x="173.94" y="662.52" width="4.1" height="16.27"/>
<rect x="181.61" y="660.9" width="4.1" height="17.9"/>
<rect x="189.27" y="664.48" width="4.1" height="14.32"/>
<rect x="196.94" y="399.2" width="4.1" height="279.6"/>
<rect x="204.61" y="649.18" width="4.1" height="29.62"/>
<rect x="212.27" y="656.01" width="4.1" height="22.78"/>
<rect x="219.94" y="671.64" width="4.1" height="7.16"/>
<rect x="227.6" y="656.01" width="4.1" height="22.78"/>
<rect x="235.27" y="613.7" width="4.1" height="65.1"/>
<rect x="242.94" y="669.03" width="4.1" height="9.76"/>
<rect x="250.6" y="664.48" width="4.1" height="14.32"/>
<rect x="258.27" y="665.13" width="4.1" height="13.67"/>
<rect x="265.93" y="650.81" width="4.1" height="27.99"/>
<rect x="273.6" y="612.07" width="4.1" height="66.73"/>
<rect x="281.27" y="661.55" width="4.1" height="17.25"/>
<rect x="288.93" y="644.62" width="4.1" height="34.18"/>
<rect x="296.6" y="675.54" width="4.1" height="3.25"/>
<rect x="304.26" y="673.27" width="4.1" height="5.53"/>
<rect x="311.93" y="650.81" width="4.1" height="27.99"/>
<rect x="319.6" y="659.6" width="4.1" height="19.2"/>
<rect x="327.26" y="667.08" width="4.1" height="11.72"/>
<rect x="334.93" y="672.94" width="4.1" height="5.86"/>
<rect x="342.59" y="658.94" width="4.1" height="19.86"/>
<rect x="350.26" y="615.65" width="4.1" height="63.15"/>
<rect x="357.93" y="660.9" width="4.1" height="17.9"/>
<rect x="365.59" y="657.32" width="4.1" height="21.48"/>
<rect x="373.26" y="669.03" width="4.1" height="9.76"/>
<rect x="380.92" y="657.32" width="4.1" height="21.48"/>
<rect x="388.59" y="643.97" width="4.1" height="34.83"/>
<rect x="396.26" y="675.54" width="4.1" height="3.25"/>
<rect x="403.92" y="656.01" width="4.1" height="22.78"/>
<rect x="411.59" y="675.54" width="4.1" height="3.25"/>
<rect x="419.25" y="667.08" width="4.1" height="11.72"/>
<rect x="426.92" y="629.32" width="4.1" height="49.48"/>
<rect x="434.59" y="663.5" width="4.1" height="15.3"/>
<rect x="442.25" y="657.32" width="4.1" height="21.48"/>
<rect x="449.92" y="669.36" width="4.1" height="9.44"/>
<rect x="457.58" y="675.87" width="4.1" height="2.93"/>
<rect x="465.25" y="672.29" width="4.1" height="6.51"/>
<rect x="472.92" y="665.45" width="4.1" height="13.35"/>
<rect x="480.58" y="670.34" width="4.1" height="8.46"/>
<rect x="488.25" y="673.27" width="4.1" height="5.53"/>
<rect x="495.91" y="655.36" width="4.1" height="23.44"/>
<rect x="503.58" y="656.01" width="4.1" height="22.78"/>
<rect x="511.25" y="676.52" width="4.1" height="2.28"/>
<rect x="518.91" y="656.01" width="4.1" height="22.78"/>
<rect x="526.58" y="665.45" width="4.1" height="13.35"/>
<rect x="534.24" y="667.08" width="4.1" height="11.72"/>
<rect x="541.91" y="667.08" width="4.1" height="11.72"/>
<rect x="549.58" y="675.54" width="4.1" height="3.25"/>
<rect x="557.24" y="661.55" width="4.1" height="17.25"/>
<rect x="564.91" y="669.03" width="4.1" height="9.76"/>
<rect x="572.57" y="676.52" width="4.1" height="2.28"/>
<rect x="580.24" y="643.65" width="4.1" height="35.15"/>
<rect x="587.91" y="669.03" width="4.1" height="9.76"/>
<rect x="595.57" y="667.08" width="4.1" height="11.72"/>
<rect x="603.24" y="661.87" width="4.1" height="16.93"/>
<rect x="610.9" y="667.08" width="4.1" height="11.72"/>
<rect x="618.57" y="667.08" width="4.1" height="11.72"/>
<rect x="626.24" y="669.69" width="4.1" height="9.11"/>
<rect x="633.9" y="677.5" width="4.1" height="1.3"/>
<rect x="641.57" y="673.27" width="4.1" height="5.53"/>
<rect x="649.23" y="669.03" width="4.1" height="9.76"/>
<rect x="656.9" y="645.27" width="4.1" height="33.53"/>
<rect x="664.57" y="675.54" width="4.1" height="3.25"/>
<rect x="672.23" y="661.22" width="4.1" height="17.58"/>
<rect x="679.9" y="667.08" width="4.1" height="11.72"/>
<rect x="687.56" y="669.69" width="4.1" height="9.11"/>
<rect x="695.23" y="675.54" width="4.1" height="3.25"/>
<rect x="702.9" y="675.54" width="4.1" height="3.25"/>
<rect x="710.56" y="674.24" width="4.1" height="4.56"/>
<rect x="718.23" y="667.73" width="4.1" height="11.07"/>
<rect x="725.89" y="661.55" width="4.1" height="17.25"/>
<rect x="733.56" y="662.52" width="4.1" height="16.27"/>
<rect x="741.23" y="670.34" width="4.1" height="8.46"/>
<rect x="748.89" y="669.69" width="4.1" height="9.11"/>
<rect x="756.56" y="667.08" width="4.1" height="11.72"/>
<rect x="764.22" y="671.64" width="4.1" height="7.16"/>
<rect x="771.89" y="671.64" width="4.1" height="7.16"/>
<rect x="779.56" y="672.29" width="4.1" height="6.51"/>
<rect x="787.22" y="671.64" width="4.1" height="7.16"/>
<rect x="794.89" y="669.69" width="4.1" height="9.11"/>
<rect x="802.55" y="675.87" width="4.1" height="2.93"/>
<rect x="810.22" y="659.92" width="4.1" height="18.88"/>
<rect x="817.89" y="674.24" width="4.1" height="4.56"/>
<rect x="825.55" y="672.94" width="4.1" height="5.86"/>
<rect x="833.22" y="673.27" width="4.1" height="5.53"/>
<rect x="840.88" y="667.08" width="4.1" height="11.72"/>
</g>
<line x1="83.6" y1="678.8" x2="83.6" y2="670.8" stroke="#7a7a7a" stroke-width="1.2"/>
<line x1="83.6" y1="371.8" x2="83.6" y2="379.8" stroke="#7a7a7a" stroke-width="1.2"/>
<line x1="160.34" y1="678.8" x2="160.34" y2="670.8" stroke="#7a7a7a" stroke-width="1.2"/>
<line x1="160.34" y1="371.8" x2="160.34" y2="379.8" stroke="#7a7a7a" stroke-width="1.2"/>
<line x1="237.08" y1="678.8" x2="237.08" y2="670.8" stroke="#7a7a7a" stroke-width="1.2"/>
<line x1="237.08" y1="371.8" x2="237.08" y2="379.8" stroke="#7a7a7a" stroke-width="1.2"/>
<line x1="313.82" y1="678.8" x2="313.82" y2="670.8" stroke="#7a7a7a" stroke-width="1.2"/>
<line x1="313.82" y1="371.8" x2="313.82" y2="379.8" stroke="#7a7a7a" stroke-width="1.2"/>
<line x1="390.56" y1="678.8" x2="390.56" y2="670.8" stroke="#7a7a7a" stroke-width="1.2"/>
<line x1="390.56" y1="371.8" x2="390.56" y2="379.8" stroke="#7a7a7a" stroke-width="1.2"/>
<line x1="467.3" y1="678.8" x2="467.3" y2="670.8" stroke="#7a7a7a" stroke-width="1.2"/>
<line x1="467.3" y1="371.8" x2="467.3" y2="379.8" stroke="#7a7a7a" stroke-width="1.2"/>
<line x1="544.04" y1="678.8" x2="544.04" y2="670.8" stroke="#7a7a7a" stroke-width="1.2"/>
<line x1="544.04" y1="371.8" x2="544.04" y2="379.8" stroke="#7a7a7a" stroke-width="1.2"/>
<line x1="620.78" y1="678.8" x2="620.78" y2="670.8" stroke="#7a7a7a" stroke-width="1.2"/>
<line x1="620.78" y1="371.8" x2="620.78" y2="379.8" stroke="#7a7a7a" stroke-width="1.2"/>
<line x1="697.52" y1="678.8" x2="697.52" y2="670.8" stroke="#7a7a7a" stroke-width="1.2"/>
<line x1="697.52" y1="371.8" x2="697.52" y2="379.8" stroke="#7a7a7a" stroke-width="1.2"/>
<line x1="774.26" y1="678.8" x2="774.26" y2="670.8" stroke="#7a7a7a" stroke-width="1.2"/>
<line x1="774.26" y1="371.8" x2="774.26" y2="379.8" stroke="#7a7a7a" stroke-width="1.2"/>
<line x1="851" y1="678.8" x2="851" y2="670.8" stroke="#7a7a7a" stroke-width="1.2"/>
<line x1="851" y1="371.8" x2="851" y2="379.8" stroke="#7a7a7a" stroke-width="1.2"/>
<line x1="44.8" y1="678.8" x2="52.8" y2="678.8" stroke="#7a7a7a" stroke-width="1.2"/>
<line x1="851.3" y1="678.8" x2="843.3" y2="678.8" stroke="#7a7a7a" stroke-width="1.2"/>
<line x1="44.8" y1="646.25" x2="52.8" y2="646.25" stroke="#7a7a7a" stroke-width="1.2"/>
<line x1="851.3" y1="646.25" x2="843.3" y2="646.25" stroke="#7a7a7a" stroke-width="1.2"/>
<line x1="44.8" y1="613.7" x2="52.8" y2="613.7" stroke="#7a7a7a" stroke-width="1.2"/>
<line x1="851.3" y1="613.7" x2="843.3" y2="613.7" stroke="#7a7a7a" stroke-width="1.2"/>
<line x1="44.8" y1="581.15" x2="52.8" y2="581.15" stroke="#7a7a7a" stroke-width="1.2"/>
<line x1="851.3" y1="581.15" x2="843.3" y2="581.15" stroke="#7a7a7a" stroke-width="1.2"/>
<line x1="44.8" y1="548.6" x2="52.8" y2="548.6" stroke="#7a7a7a" stroke-width="1.2"/>
<line x1="851.3" y1="548.6" x2="843.3" y2="548.6" stroke="#7a7a7a" stroke-width="1.2"/>
<line x1="44.8" y1="516.05" x2="52.8" y2="516.05" stroke="#7a7a7a" stroke-width="1.2"/>
<line x1="851.3" y1="516.05" x2="843.3" y2="516.05" stroke="#7a7a7a" stroke-width="1.2"/>
<line x1="44.8" y1="483.5" x2="52.8" y2="483.5" stroke="#7a7a7a" stroke-width="1.2"/>
<line x1="851.3" y1="483.5" x2="843.3" y2="483.5" stroke="#7a7a7a" stroke-width="1.2"/>
<line x1="44.8" y1="450.95" x2="52.8" y2="450.95" stroke="#7a7a7a" stroke-width="1.2"/>
<line x1="851.3" y1="450.95" x2="843.3" y2="450.95" stroke="#7a7a7a" stroke-width="1.2"/>
<line x1="44.8" y1="418.4" x2="52.8" y2="418.4" stroke="#7a7a7a" stroke-width="1.2"/>
<line x1="851.3" y1="418.4" x2="843.3" y2="418.4" stroke="#7a7a7a" stroke-width="1.2"/>
<line x1="44.8" y1="385.85" x2="52.8" y2="385.85" stroke="#7a7a7a" stroke-width="1.2"/>
<line x1="851.3" y1="385.85" x2="843.3" y2="385.85" stroke="#7a7a7a" stroke-width="1.2"/>
<rect x="44.8" y="371.8" width="806.5" height="307" fill="none" stroke="#7a7a7a" stroke-width="1.4"/>
<text x="39.8" y="685.4" font-size="14.5" text-anchor="end" fill="#666" stroke="#666" stroke-width="0.28">0</text>
<text x="39.8" y="652.85" font-size="14.5" text-anchor="end" fill="#666" stroke="#666" stroke-width="0.28">5</text>
<text x="39.8" y="620.3" font-size="14.5" text-anchor="end" fill="#666" stroke="#666" stroke-width="0.28">10</text>
<text x="39.8" y="587.75" font-size="14.5" text-anchor="end" fill="#666" stroke="#666" stroke-width="0.28">15</text>
<text x="39.8" y="555.2" font-size="14.5" text-anchor="end" fill="#666" stroke="#666" stroke-width="0.28">20</text>
<text x="39.8" y="522.65" font-size="14.5" text-anchor="end" fill="#666" stroke="#666" stroke-width="0.28">25</text>
<text x="39.8" y="490.1" font-size="14.5" text-anchor="end" fill="#666" stroke="#666" stroke-width="0.28">30</text>
<text x="39.8" y="457.55" font-size="14.5" text-anchor="end" fill="#666" stroke="#666" stroke-width="0.28">35</text>
<text x="39.8" y="425" font-size="14.5" text-anchor="end" fill="#666" stroke="#666" stroke-width="0.28">40</text>
<text x="39.8" y="392.45" font-size="14.5" text-anchor="end" fill="#666" stroke="#666" stroke-width="0.28">45</text>
<text x="83.6" y="701.2" font-size="16" text-anchor="middle" fill="#666" stroke="#666" stroke-width="0.28">0</text>
<text x="160.34" y="701.2" font-size="16" text-anchor="middle" fill="#666" stroke="#666" stroke-width="0.28">2</text>
<text x="237.08" y="701.2" font-size="16" text-anchor="middle" fill="#666" stroke="#666" stroke-width="0.28">4</text>
<text x="313.82" y="701.2" font-size="16" text-anchor="middle" fill="#666" stroke="#666" stroke-width="0.28">6</text>
<text x="390.56" y="701.2" font-size="16" text-anchor="middle" fill="#666" stroke="#666" stroke-width="0.28">8</text>
<text x="467.3" y="701.2" font-size="16" text-anchor="middle" fill="#666" stroke="#666" stroke-width="0.28">10</text>
<text x="544.04" y="701.2" font-size="16" text-anchor="middle" fill="#666" stroke="#666" stroke-width="0.28">12</text>
<text x="620.78" y="701.2" font-size="16" text-anchor="middle" fill="#666" stroke="#666" stroke-width="0.28">14</text>
<text x="697.52" y="701.2" font-size="16" text-anchor="middle" fill="#666" stroke="#666" stroke-width="0.28">16</text>
<text x="774.26" y="701.2" font-size="16" text-anchor="middle" fill="#666" stroke="#666" stroke-width="0.28">18</text>
<text x="851" y="701.2" font-size="16" text-anchor="middle" fill="#666" stroke="#666" stroke-width="0.28">20</text>
<text x="447.6" y="363" font-size="15.2" text-anchor="middle" fill="#383838" stroke="#383838" stroke-width="0.28" textLength="300.6" lengthAdjust="spacingAndGlyphs">Fundamental (50Hz) = 17.61 , THD= 54.94%</text>
<text x="448.5" y="722" font-size="14" text-anchor="middle" fill="#4a4a4a" stroke="#4a4a4a" stroke-width="0.28" textLength="104" lengthAdjust="spacingAndGlyphs">Harmonic order</text>
<text x="15.5" y="525.8" font-size="14" text-anchor="middle" fill="#4a4a4a" stroke="#4a4a4a" stroke-width="0.28" textLength="185.5" lengthAdjust="spacingAndGlyphs" transform="rotate(-90 15.5 525.8)">Mag (% of Fundamental)</text>
<line x1="985" y1="677.58" x2="1690.2" y2="677.58" stroke="#dedede" stroke-width="0.8" stroke-dasharray="1.2 2.2"/>
<line x1="985" y1="669.46" x2="1690.2" y2="669.46" stroke="#dedede" stroke-width="0.8" stroke-dasharray="1.2 2.2"/>
<line x1="985" y1="661.34" x2="1690.2" y2="661.34" stroke="#dedede" stroke-width="0.8" stroke-dasharray="1.2 2.2"/>
<line x1="985" y1="653.22" x2="1690.2" y2="653.22" stroke="#dedede" stroke-width="0.8" stroke-dasharray="1.2 2.2"/>
<line x1="985" y1="637.26" x2="1690.2" y2="637.26" stroke="#dedede" stroke-width="0.8" stroke-dasharray="1.2 2.2"/>
<line x1="985" y1="629.42" x2="1690.2" y2="629.42" stroke="#dedede" stroke-width="0.8" stroke-dasharray="1.2 2.2"/>
<line x1="985" y1="621.58" x2="1690.2" y2="621.58" stroke="#dedede" stroke-width="0.8" stroke-dasharray="1.2 2.2"/>
<line x1="985" y1="613.74" x2="1690.2" y2="613.74" stroke="#dedede" stroke-width="0.8" stroke-dasharray="1.2 2.2"/>
<line x1="985" y1="597.72" x2="1690.2" y2="597.72" stroke="#dedede" stroke-width="0.8" stroke-dasharray="1.2 2.2"/>
<line x1="985" y1="589.54" x2="1690.2" y2="589.54" stroke="#dedede" stroke-width="0.8" stroke-dasharray="1.2 2.2"/>
<line x1="985" y1="581.36" x2="1690.2" y2="581.36" stroke="#dedede" stroke-width="0.8" stroke-dasharray="1.2 2.2"/>
<line x1="985" y1="573.18" x2="1690.2" y2="573.18" stroke="#dedede" stroke-width="0.8" stroke-dasharray="1.2 2.2"/>
<line x1="985" y1="557.2" x2="1690.2" y2="557.2" stroke="#dedede" stroke-width="0.8" stroke-dasharray="1.2 2.2"/>
<line x1="985" y1="549.4" x2="1690.2" y2="549.4" stroke="#dedede" stroke-width="0.8" stroke-dasharray="1.2 2.2"/>
<line x1="985" y1="541.6" x2="1690.2" y2="541.6" stroke="#dedede" stroke-width="0.8" stroke-dasharray="1.2 2.2"/>
<line x1="985" y1="533.8" x2="1690.2" y2="533.8" stroke="#dedede" stroke-width="0.8" stroke-dasharray="1.2 2.2"/>
<line x1="985" y1="517.86" x2="1690.2" y2="517.86" stroke="#dedede" stroke-width="0.8" stroke-dasharray="1.2 2.2"/>
<line x1="985" y1="509.72" x2="1690.2" y2="509.72" stroke="#dedede" stroke-width="0.8" stroke-dasharray="1.2 2.2"/>
<line x1="985" y1="501.58" x2="1690.2" y2="501.58" stroke="#dedede" stroke-width="0.8" stroke-dasharray="1.2 2.2"/>
<line x1="985" y1="493.44" x2="1690.2" y2="493.44" stroke="#dedede" stroke-width="0.8" stroke-dasharray="1.2 2.2"/>
<line x1="985" y1="477.39" x2="1690.2" y2="477.39" stroke="#dedede" stroke-width="0.8" stroke-dasharray="1.2 2.2"/>
<line x1="985" y1="469.48" x2="1690.2" y2="469.48" stroke="#dedede" stroke-width="0.8" stroke-dasharray="1.2 2.2"/>
<line x1="985" y1="461.57" x2="1690.2" y2="461.57" stroke="#dedede" stroke-width="0.8" stroke-dasharray="1.2 2.2"/>
<line x1="985" y1="453.66" x2="1690.2" y2="453.66" stroke="#dedede" stroke-width="0.8" stroke-dasharray="1.2 2.2"/>
<line x1="985" y1="437.96" x2="1690.2" y2="437.96" stroke="#dedede" stroke-width="0.8" stroke-dasharray="1.2 2.2"/>
<line x1="985" y1="430.17" x2="1690.2" y2="430.17" stroke="#dedede" stroke-width="0.8" stroke-dasharray="1.2 2.2"/>
<line x1="985" y1="422.38" x2="1690.2" y2="422.38" stroke="#dedede" stroke-width="0.8" stroke-dasharray="1.2 2.2"/>
<line x1="985" y1="414.59" x2="1690.2" y2="414.59" stroke="#dedede" stroke-width="0.8" stroke-dasharray="1.2 2.2"/>
<line x1="985" y1="398.8" x2="1690.2" y2="398.8" stroke="#dedede" stroke-width="0.8" stroke-dasharray="1.2 2.2"/>
<line x1="985" y1="390.8" x2="1690.2" y2="390.8" stroke="#dedede" stroke-width="0.8" stroke-dasharray="1.2 2.2"/>
<line x1="985" y1="382.8" x2="1690.2" y2="382.8" stroke="#dedede" stroke-width="0.8" stroke-dasharray="1.2 2.2"/>
<line x1="985" y1="374.8" x2="1690.2" y2="374.8" stroke="#dedede" stroke-width="0.8" stroke-dasharray="1.2 2.2"/>
<line x1="1001.9" y1="365.8" x2="1001.9" y2="685.7" stroke="#dedede" stroke-width="0.8" stroke-dasharray="1.2 2.2"/>
<line x1="1035.5" y1="365.8" x2="1035.5" y2="685.7" stroke="#dedede" stroke-width="0.8" stroke-dasharray="1.2 2.2"/>
<line x1="1052.3" y1="365.8" x2="1052.3" y2="685.7" stroke="#dedede" stroke-width="0.8" stroke-dasharray="1.2 2.2"/>
<line x1="1069.1" y1="365.8" x2="1069.1" y2="685.7" stroke="#dedede" stroke-width="0.8" stroke-dasharray="1.2 2.2"/>
<line x1="1102.7" y1="365.8" x2="1102.7" y2="685.7" stroke="#dedede" stroke-width="0.8" stroke-dasharray="1.2 2.2"/>
<line x1="1119.5" y1="365.8" x2="1119.5" y2="685.7" stroke="#dedede" stroke-width="0.8" stroke-dasharray="1.2 2.2"/>
<line x1="1136.3" y1="365.8" x2="1136.3" y2="685.7" stroke="#dedede" stroke-width="0.8" stroke-dasharray="1.2 2.2"/>
<line x1="1169.9" y1="365.8" x2="1169.9" y2="685.7" stroke="#dedede" stroke-width="0.8" stroke-dasharray="1.2 2.2"/>
<line x1="1186.7" y1="365.8" x2="1186.7" y2="685.7" stroke="#dedede" stroke-width="0.8" stroke-dasharray="1.2 2.2"/>
<line x1="1203.5" y1="365.8" x2="1203.5" y2="685.7" stroke="#dedede" stroke-width="0.8" stroke-dasharray="1.2 2.2"/>
<line x1="1237.1" y1="365.8" x2="1237.1" y2="685.7" stroke="#dedede" stroke-width="0.8" stroke-dasharray="1.2 2.2"/>
<line x1="1253.9" y1="365.8" x2="1253.9" y2="685.7" stroke="#dedede" stroke-width="0.8" stroke-dasharray="1.2 2.2"/>
<line x1="1270.7" y1="365.8" x2="1270.7" y2="685.7" stroke="#dedede" stroke-width="0.8" stroke-dasharray="1.2 2.2"/>
<line x1="1304.3" y1="365.8" x2="1304.3" y2="685.7" stroke="#dedede" stroke-width="0.8" stroke-dasharray="1.2 2.2"/>
<line x1="1321.1" y1="365.8" x2="1321.1" y2="685.7" stroke="#dedede" stroke-width="0.8" stroke-dasharray="1.2 2.2"/>
<line x1="1337.9" y1="365.8" x2="1337.9" y2="685.7" stroke="#dedede" stroke-width="0.8" stroke-dasharray="1.2 2.2"/>
<line x1="1371.5" y1="365.8" x2="1371.5" y2="685.7" stroke="#dedede" stroke-width="0.8" stroke-dasharray="1.2 2.2"/>
<line x1="1388.3" y1="365.8" x2="1388.3" y2="685.7" stroke="#dedede" stroke-width="0.8" stroke-dasharray="1.2 2.2"/>
<line x1="1405.1" y1="365.8" x2="1405.1" y2="685.7" stroke="#dedede" stroke-width="0.8" stroke-dasharray="1.2 2.2"/>
<line x1="1438.7" y1="365.8" x2="1438.7" y2="685.7" stroke="#dedede" stroke-width="0.8" stroke-dasharray="1.2 2.2"/>
<line x1="1455.5" y1="365.8" x2="1455.5" y2="685.7" stroke="#dedede" stroke-width="0.8" stroke-dasharray="1.2 2.2"/>
<line x1="1472.3" y1="365.8" x2="1472.3" y2="685.7" stroke="#dedede" stroke-width="0.8" stroke-dasharray="1.2 2.2"/>
<line x1="1505.9" y1="365.8" x2="1505.9" y2="685.7" stroke="#dedede" stroke-width="0.8" stroke-dasharray="1.2 2.2"/>
<line x1="1522.7" y1="365.8" x2="1522.7" y2="685.7" stroke="#dedede" stroke-width="0.8" stroke-dasharray="1.2 2.2"/>
<line x1="1539.5" y1="365.8" x2="1539.5" y2="685.7" stroke="#dedede" stroke-width="0.8" stroke-dasharray="1.2 2.2"/>
<line x1="1573.1" y1="365.8" x2="1573.1" y2="685.7" stroke="#dedede" stroke-width="0.8" stroke-dasharray="1.2 2.2"/>
<line x1="1589.9" y1="365.8" x2="1589.9" y2="685.7" stroke="#dedede" stroke-width="0.8" stroke-dasharray="1.2 2.2"/>
<line x1="1606.7" y1="365.8" x2="1606.7" y2="685.7" stroke="#dedede" stroke-width="0.8" stroke-dasharray="1.2 2.2"/>
<line x1="1640.3" y1="365.8" x2="1640.3" y2="685.7" stroke="#dedede" stroke-width="0.8" stroke-dasharray="1.2 2.2"/>
<line x1="1657.1" y1="365.8" x2="1657.1" y2="685.7" stroke="#dedede" stroke-width="0.8" stroke-dasharray="1.2 2.2"/>
<line x1="1673.9" y1="365.8" x2="1673.9" y2="685.7" stroke="#dedede" stroke-width="0.8" stroke-dasharray="1.2 2.2"/>
<line x1="985" y1="645.1" x2="1690.2" y2="645.1" stroke="#e2e2e2" stroke-width="1"/>
<line x1="985" y1="605.9" x2="1690.2" y2="605.9" stroke="#e2e2e2" stroke-width="1"/>
<line x1="985" y1="565" x2="1690.2" y2="565" stroke="#e2e2e2" stroke-width="1"/>
<line x1="985" y1="526" x2="1690.2" y2="526" stroke="#e2e2e2" stroke-width="1"/>
<line x1="985" y1="485.3" x2="1690.2" y2="485.3" stroke="#e2e2e2" stroke-width="1"/>
<line x1="985" y1="445.75" x2="1690.2" y2="445.75" stroke="#e2e2e2" stroke-width="1"/>
<line x1="985" y1="406.8" x2="1690.2" y2="406.8" stroke="#e2e2e2" stroke-width="1"/>
<line x1="1018.7" y1="365.8" x2="1018.7" y2="685.7" stroke="#e2e2e2" stroke-width="1"/>
<line x1="1085.9" y1="365.8" x2="1085.9" y2="685.7" stroke="#e2e2e2" stroke-width="1"/>
<line x1="1153.1" y1="365.8" x2="1153.1" y2="685.7" stroke="#e2e2e2" stroke-width="1"/>
<line x1="1220.3" y1="365.8" x2="1220.3" y2="685.7" stroke="#e2e2e2" stroke-width="1"/>
<line x1="1287.5" y1="365.8" x2="1287.5" y2="685.7" stroke="#e2e2e2" stroke-width="1"/>
<line x1="1354.7" y1="365.8" x2="1354.7" y2="685.7" stroke="#e2e2e2" stroke-width="1"/>
<line x1="1421.9" y1="365.8" x2="1421.9" y2="685.7" stroke="#e2e2e2" stroke-width="1"/>
<line x1="1489.1" y1="365.8" x2="1489.1" y2="685.7" stroke="#e2e2e2" stroke-width="1"/>
<line x1="1556.3" y1="365.8" x2="1556.3" y2="685.7" stroke="#e2e2e2" stroke-width="1"/>
<line x1="1623.5" y1="365.8" x2="1623.5" y2="685.7" stroke="#e2e2e2" stroke-width="1"/>
<g fill="#0872bf" stroke="#0e2639" stroke-width="1">
<rect x="1017.3" y="651.19" width="3.6" height="34.51"/>
<rect x="1024" y="677.82" width="3.6" height="7.88"/>
<rect x="1030.71" y="674.33" width="3.6" height="11.37"/>
<rect x="1037.41" y="668.4" width="3.6" height="17.3"/>
<rect x="1044.12" y="655.17" width="3.6" height="30.53"/>
<rect x="1050.82" y="365.8" width="3.6" height="319.9"/>
<rect x="1057.52" y="653.38" width="3.6" height="32.32"/>
<rect x="1064.23" y="664.67" width="3.6" height="21.03"/>
<rect x="1070.93" y="670.52" width="3.6" height="15.18"/>
<rect x="1077.64" y="676.44" width="3.6" height="9.26"/>
<rect x="1084.34" y="671.57" width="3.6" height="14.13"/>
<rect x="1091.04" y="680.34" width="3.6" height="5.36"/>
<rect x="1097.75" y="683.75" width="3.6" height="1.95"/>
<rect x="1104.45" y="677.34" width="3.6" height="8.36"/>
<rect x="1111.16" y="679.45" width="3.6" height="6.25"/>
<rect x="1117.86" y="394.48" width="3.6" height="291.22"/>
<rect x="1124.56" y="683.26" width="3.6" height="2.44"/>
<rect x="1131.27" y="675.23" width="3.6" height="10.47"/>
<rect x="1137.97" y="671.57" width="3.6" height="14.13"/>
<rect x="1144.68" y="675.23" width="3.6" height="10.47"/>
<rect x="1151.38" y="679.29" width="3.6" height="6.41"/>
<rect x="1158.08" y="683.75" width="3.6" height="1.95"/>
<rect x="1164.79" y="677.82" width="3.6" height="7.88"/>
<rect x="1171.49" y="683.75" width="3.6" height="1.95"/>
<rect x="1178.2" y="684.73" width="3.6" height="0.97"/>
<rect x="1184.9" y="647.62" width="3.6" height="38.08"/>
<rect x="1191.6" y="682.05" width="3.6" height="3.65"/>
<rect x="1198.31" y="682.05" width="3.6" height="3.65"/>
<rect x="1205.01" y="682.05" width="3.6" height="3.65"/>
<rect x="1211.72" y="684.73" width="3.6" height="0.97"/>
<rect x="1218.42" y="683.26" width="3.6" height="2.44"/>
<rect x="1225.12" y="682.05" width="3.6" height="3.65"/>
<rect x="1231.83" y="680.34" width="3.6" height="5.36"/>
<rect x="1238.53" y="682.05" width="3.6" height="3.65"/>
<rect x="1245.24" y="677.66" width="3.6" height="8.04"/>
<rect x="1251.94" y="659.8" width="3.6" height="25.9"/>
<rect x="1258.64" y="684.73" width="3.6" height="0.97"/>
<rect x="1265.35" y="682.05" width="3.6" height="3.65"/>
<rect x="1272.05" y="679.2" width="3.6" height="6.5"/>
<rect x="1278.76" y="681.07" width="3.6" height="4.63"/>
<rect x="1285.46" y="679.45" width="3.6" height="6.25"/>
<rect x="1292.16" y="681.07" width="3.6" height="4.63"/>
<rect x="1298.87" y="683.75" width="3.6" height="1.95"/>
<rect x="1305.57" y="683.26" width="3.6" height="2.44"/>
<rect x="1312.28" y="677.58" width="3.6" height="8.12"/>
<rect x="1318.98" y="463.63" width="3.6" height="222.07"/>
<rect x="1325.68" y="675.23" width="3.6" height="10.47"/>
<rect x="1332.39" y="682.05" width="3.6" height="3.65"/>
<rect x="1339.09" y="680.02" width="3.6" height="5.68"/>
<rect x="1345.8" y="677.58" width="3.6" height="8.12"/>
<rect x="1352.5" y="677.58" width="3.6" height="8.12"/>
<rect x="1359.2" y="679.2" width="3.6" height="6.5"/>
<rect x="1365.91" y="680.83" width="3.6" height="4.87"/>
<rect x="1372.61" y="681.07" width="3.6" height="4.63"/>
<rect x="1379.32" y="680.02" width="3.6" height="5.68"/>
<rect x="1386.02" y="676.77" width="3.6" height="8.93"/>
<rect x="1392.72" y="683.26" width="3.6" height="2.44"/>
<rect x="1399.43" y="684.73" width="3.6" height="0.97"/>
<rect x="1406.13" y="680.83" width="3.6" height="4.87"/>
<rect x="1412.84" y="677.58" width="3.6" height="8.12"/>
<rect x="1419.54" y="684.73" width="3.6" height="0.97"/>
<rect x="1426.24" y="682.29" width="3.6" height="3.41"/>
<rect x="1432.95" y="680.83" width="3.6" height="4.87"/>
<rect x="1439.65" y="677.58" width="3.6" height="8.12"/>
<rect x="1446.36" y="677.58" width="3.6" height="8.12"/>
<rect x="1453.06" y="637.26" width="3.6" height="48.44"/>
<rect x="1459.76" y="682.05" width="3.6" height="3.65"/>
<rect x="1466.47" y="680.83" width="3.6" height="4.87"/>
<rect x="1473.17" y="683.26" width="3.6" height="2.44"/>
<rect x="1479.88" y="683.26" width="3.6" height="2.44"/>
<rect x="1486.58" y="675.23" width="3.6" height="10.47"/>
<rect x="1493.28" y="683.75" width="3.6" height="1.95"/>
<rect x="1499.99" y="680.02" width="3.6" height="5.68"/>
<rect x="1506.69" y="680.02" width="3.6" height="5.68"/>
<rect x="1513.4" y="670.19" width="3.6" height="15.51"/>
<rect x="1520.1" y="535.28" width="3.6" height="150.42"/>
<rect x="1526.8" y="682.05" width="3.6" height="3.65"/>
<rect x="1533.51" y="676.77" width="3.6" height="8.93"/>
<rect x="1540.21" y="676.77" width="3.6" height="8.93"/>
<rect x="1546.92" y="677.58" width="3.6" height="8.12"/>
<rect x="1553.62" y="682.29" width="3.6" height="3.41"/>
<rect x="1560.32" y="679.2" width="3.6" height="6.5"/>
<rect x="1567.03" y="677.58" width="3.6" height="8.12"/>
<rect x="1573.73" y="682.05" width="3.6" height="3.65"/>
<rect x="1580.44" y="683.75" width="3.6" height="1.95"/>
<rect x="1587.14" y="666.62" width="3.6" height="19.08"/>
<rect x="1593.84" y="680.83" width="3.6" height="4.87"/>
<rect x="1600.55" y="682.29" width="3.6" height="3.41"/>
<rect x="1607.25" y="680.02" width="3.6" height="5.68"/>
<rect x="1613.96" y="680.83" width="3.6" height="4.87"/>
<rect x="1620.66" y="679.45" width="3.6" height="6.25"/>
<rect x="1627.36" y="682.05" width="3.6" height="3.65"/>
<rect x="1634.07" y="679.2" width="3.6" height="6.5"/>
<rect x="1640.77" y="675.23" width="3.6" height="10.47"/>
<rect x="1647.48" y="677.82" width="3.6" height="7.88"/>
<rect x="1654.18" y="661.58" width="3.6" height="24.12"/>
<rect x="1660.88" y="683.26" width="3.6" height="2.44"/>
<rect x="1667.59" y="680.02" width="3.6" height="5.68"/>
<rect x="1674.29" y="676.77" width="3.6" height="8.93"/>
<rect x="1681" y="682.05" width="3.6" height="3.65"/>
</g>
<line x1="1018.7" y1="685.7" x2="1018.7" y2="677.7" stroke="#7a7a7a" stroke-width="1.2"/>
<line x1="1018.7" y1="365.8" x2="1018.7" y2="373.8" stroke="#7a7a7a" stroke-width="1.2"/>
<line x1="1085.9" y1="685.7" x2="1085.9" y2="677.7" stroke="#7a7a7a" stroke-width="1.2"/>
<line x1="1085.9" y1="365.8" x2="1085.9" y2="373.8" stroke="#7a7a7a" stroke-width="1.2"/>
<line x1="1153.1" y1="685.7" x2="1153.1" y2="677.7" stroke="#7a7a7a" stroke-width="1.2"/>
<line x1="1153.1" y1="365.8" x2="1153.1" y2="373.8" stroke="#7a7a7a" stroke-width="1.2"/>
<line x1="1220.3" y1="685.7" x2="1220.3" y2="677.7" stroke="#7a7a7a" stroke-width="1.2"/>
<line x1="1220.3" y1="365.8" x2="1220.3" y2="373.8" stroke="#7a7a7a" stroke-width="1.2"/>
<line x1="1287.5" y1="685.7" x2="1287.5" y2="677.7" stroke="#7a7a7a" stroke-width="1.2"/>
<line x1="1287.5" y1="365.8" x2="1287.5" y2="373.8" stroke="#7a7a7a" stroke-width="1.2"/>
<line x1="1354.7" y1="685.7" x2="1354.7" y2="677.7" stroke="#7a7a7a" stroke-width="1.2"/>
<line x1="1354.7" y1="365.8" x2="1354.7" y2="373.8" stroke="#7a7a7a" stroke-width="1.2"/>
<line x1="1421.9" y1="685.7" x2="1421.9" y2="677.7" stroke="#7a7a7a" stroke-width="1.2"/>
<line x1="1421.9" y1="365.8" x2="1421.9" y2="373.8" stroke="#7a7a7a" stroke-width="1.2"/>
<line x1="1489.1" y1="685.7" x2="1489.1" y2="677.7" stroke="#7a7a7a" stroke-width="1.2"/>
<line x1="1489.1" y1="365.8" x2="1489.1" y2="373.8" stroke="#7a7a7a" stroke-width="1.2"/>
<line x1="1556.3" y1="685.7" x2="1556.3" y2="677.7" stroke="#7a7a7a" stroke-width="1.2"/>
<line x1="1556.3" y1="365.8" x2="1556.3" y2="373.8" stroke="#7a7a7a" stroke-width="1.2"/>
<line x1="1623.5" y1="685.7" x2="1623.5" y2="677.7" stroke="#7a7a7a" stroke-width="1.2"/>
<line x1="1623.5" y1="365.8" x2="1623.5" y2="373.8" stroke="#7a7a7a" stroke-width="1.2"/>
<line x1="1690.7" y1="685.7" x2="1690.7" y2="677.7" stroke="#7a7a7a" stroke-width="1.2"/>
<line x1="1690.7" y1="365.8" x2="1690.7" y2="373.8" stroke="#7a7a7a" stroke-width="1.2"/>
<line x1="985" y1="685.7" x2="993" y2="685.7" stroke="#7a7a7a" stroke-width="1.2"/>
<line x1="1690.2" y1="685.7" x2="1682.2" y2="685.7" stroke="#7a7a7a" stroke-width="1.2"/>
<line x1="985" y1="645.1" x2="993" y2="645.1" stroke="#7a7a7a" stroke-width="1.2"/>
<line x1="1690.2" y1="645.1" x2="1682.2" y2="645.1" stroke="#7a7a7a" stroke-width="1.2"/>
<line x1="985" y1="605.9" x2="993" y2="605.9" stroke="#7a7a7a" stroke-width="1.2"/>
<line x1="1690.2" y1="605.9" x2="1682.2" y2="605.9" stroke="#7a7a7a" stroke-width="1.2"/>
<line x1="985" y1="565" x2="993" y2="565" stroke="#7a7a7a" stroke-width="1.2"/>
<line x1="1690.2" y1="565" x2="1682.2" y2="565" stroke="#7a7a7a" stroke-width="1.2"/>
<line x1="985" y1="526" x2="993" y2="526" stroke="#7a7a7a" stroke-width="1.2"/>
<line x1="1690.2" y1="526" x2="1682.2" y2="526" stroke="#7a7a7a" stroke-width="1.2"/>
<line x1="985" y1="485.3" x2="993" y2="485.3" stroke="#7a7a7a" stroke-width="1.2"/>
<line x1="1690.2" y1="485.3" x2="1682.2" y2="485.3" stroke="#7a7a7a" stroke-width="1.2"/>
<line x1="985" y1="445.75" x2="993" y2="445.75" stroke="#7a7a7a" stroke-width="1.2"/>
<line x1="1690.2" y1="445.75" x2="1682.2" y2="445.75" stroke="#7a7a7a" stroke-width="1.2"/>
<line x1="985" y1="406.8" x2="993" y2="406.8" stroke="#7a7a7a" stroke-width="1.2"/>
<line x1="1690.2" y1="406.8" x2="1682.2" y2="406.8" stroke="#7a7a7a" stroke-width="1.2"/>
<rect x="985" y="365.8" width="705.2" height="319.9" fill="none" stroke="#7a7a7a" stroke-width="1.4"/>
<text x="978.3" y="692.9" font-size="16" text-anchor="end" fill="#404040" stroke="#404040" stroke-width="0.15">0</text>
<text x="978.3" y="652.3" font-size="16" text-anchor="end" fill="#404040" stroke="#404040" stroke-width="0.15">0.5</text>
<text x="978.3" y="613.1" font-size="16" text-anchor="end" fill="#404040" stroke="#404040" stroke-width="0.15">1</text>
<text x="978.3" y="572.2" font-size="16" text-anchor="end" fill="#404040" stroke="#404040" stroke-width="0.15">1.5</text>
<text x="978.3" y="533.2" font-size="16" text-anchor="end" fill="#404040" stroke="#404040" stroke-width="0.15">2</text>
<text x="978.3" y="492.5" font-size="16" text-anchor="end" fill="#404040" stroke="#404040" stroke-width="0.15">2.5</text>
<text x="978.3" y="452.95" font-size="16" text-anchor="end" fill="#404040" stroke="#404040" stroke-width="0.15">3</text>
<text x="978.3" y="414" font-size="16" text-anchor="end" fill="#404040" stroke="#404040" stroke-width="0.15">3.5</text>
<text x="1018.7" y="708" font-size="16" text-anchor="middle" fill="#404040" stroke="#404040" stroke-width="0.15">0</text>
<text x="1085.9" y="708" font-size="16" text-anchor="middle" fill="#404040" stroke="#404040" stroke-width="0.15">2</text>
<text x="1153.1" y="708" font-size="16" text-anchor="middle" fill="#404040" stroke="#404040" stroke-width="0.15">4</text>
<text x="1220.3" y="708" font-size="16" text-anchor="middle" fill="#404040" stroke="#404040" stroke-width="0.15">6</text>
<text x="1287.5" y="708" font-size="16" text-anchor="middle" fill="#404040" stroke="#404040" stroke-width="0.15">8</text>
<text x="1354.7" y="708" font-size="16" text-anchor="middle" fill="#404040" stroke="#404040" stroke-width="0.15">10</text>
<text x="1421.9" y="708" font-size="16" text-anchor="middle" fill="#404040" stroke="#404040" stroke-width="0.15">12</text>
<text x="1489.1" y="708" font-size="16" text-anchor="middle" fill="#404040" stroke="#404040" stroke-width="0.15">14</text>
<text x="1556.3" y="708" font-size="16" text-anchor="middle" fill="#404040" stroke="#404040" stroke-width="0.15">16</text>
<text x="1623.5" y="708" font-size="16" text-anchor="middle" fill="#404040" stroke="#404040" stroke-width="0.15">18</text>
<text x="1690.7" y="708" font-size="16" text-anchor="middle" fill="#404040" stroke="#404040" stroke-width="0.15">20</text>
<text x="1336.3" y="359.2" font-size="17" text-anchor="middle" fill="#262626" stroke="#262626" stroke-width="0.15" textLength="336.8" lengthAdjust="spacingAndGlyphs">Fundamental (50Hz) = 22.41 , THD= 6.07%</text>
<text x="1337.3" y="730.4" font-size="16" text-anchor="middle" fill="#444" stroke="#444" stroke-width="0.15" textLength="120.6" lengthAdjust="spacingAndGlyphs">Harmonic order</text>
<text x="945.3" y="526.2" font-size="16" text-anchor="middle" fill="#444" stroke="#444" stroke-width="0.15" textLength="188.4" lengthAdjust="spacingAndGlyphs" transform="rotate(-90 945.3 526.2)">Mag (% of Fundamental)</text>
</svg>
</body></html>
